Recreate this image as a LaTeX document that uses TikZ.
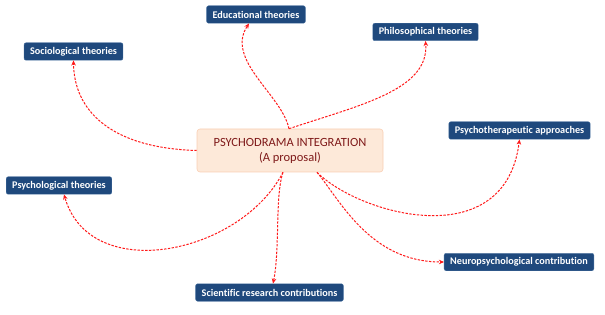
\documentclass[tikz,border=0pt]{standalone}
\usepackage{fontspec}
\setmainfont{Carlito}[Ligatures=NoCommon]
\usetikzlibrary{arrows.meta,positioning,calc}
\definecolor{topicblue}{HTML}{1F497D}
\definecolor{topicline}{HTML}{4A72A0}
\definecolor{hubfill}{HTML}{FDE9D9}
\definecolor{hubline}{HTML}{F9CFB4}
\definecolor{hubtext}{HTML}{7F1A1A}
\definecolor{linkred}{HTML}{FF1A1A}

\begin{document}
\begin{tikzpicture}[
  x=1pt, y=-1pt,
  topic/.style = {draw=topicline, line width=0.4pt, fill=topicblue, rounded corners=2pt,
                  minimum height=17.5pt, inner xsep=6pt, inner ysep=2pt, text=white,
                  font=\fontsize{10.2}{12}\selectfont\bfseries},
  hub/.style   = {draw=hubline, line width=0.6pt, fill=hubfill, rounded corners=3pt,
                  minimum width=186pt, minimum height=43pt, align=center, text=hubtext,
                  font=\fontsize{12.5}{15}\selectfont},
  ln/.style    = {-{Stealth[length=1.8mm,width=1.6mm]}, draw=linkred, line width=1pt,
                  dash pattern=on 2.4pt off 1.4pt},
]
\useasboundingbox (0,0) rectangle (605,315);

% --- the proposal in the middle -------------------------------------------------
\node[hub] (hub) at (290,150.5) {PSYCHODRAMA INTEGRATION\\(A proposal)};
\coordinate (hub-top) at ([xshift=-1pt]hub.north);
\coordinate (hub-bl)  at ([xshift=-7pt]hub.south);
\coordinate (hub-br)  at ([xshift=27pt]hub.south);

% --- the fields round it --------------------------------------------------------
\node[topic] (edu)   at (256,14.5)  {Educational theories};
\node[topic] (soc)   at (73.5,51.5) {Sociological theories};
\node[topic] (phil)  at (425.5,32)  {Philosophical theories};
\node[topic] (psyt)  at (519.5,130.5) {Psychotherapeutic approaches};
\node[topic] (psyc)  at (59,185.5)  {Psychological theories};
\node[topic] (sci)   at (269.5,292.5) {Scientific research contributions};
\node[topic] (neuro) at (519,262)   {Neuropsychological contribution};
\coordinate (edu-in) at ([xshift=-7pt]edu.south);
\coordinate (psyc-in) at ([xshift=5pt]psyc.south);
\coordinate (sci-in) at ([xshift=3.5pt]sci.north);

% --- links from the proposal out to each field ----------------------------------
\draw[ln] (hub.west) .. controls (110,148) and (74,110) .. (soc.south);
\draw[ln] (hub-top) .. controls (282,95) and (225,60) .. (edu-in);
\draw[ln] (hub-top) .. controls (360,105) and (429,90) .. (phil.south);
\draw[ln] (hub-br) .. controls (360,215) and (505,255) .. (psyt.south);
\draw[ln] (hub-br) .. controls (340,200) and (370,262) .. (neuro.west);
\draw[ln] (hub-bl) .. controls (240,255) and (90,285) .. (psyc-in);
\draw[ln] (hub-bl) .. controls (275,195) and (280,250) .. (sci-in);

\end{tikzpicture}
\end{document}
